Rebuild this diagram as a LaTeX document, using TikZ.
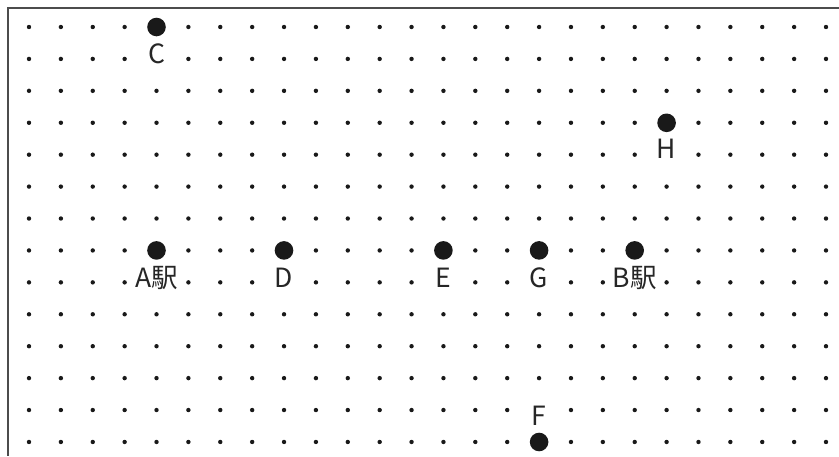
\documentclass[tikz,border=0pt]{standalone}
\usepackage{fontspec}
\setmainfont{Noto Sans CJK JP}
\usetikzlibrary{positioning}
\tikzset{
  frame/.style={draw=black!70, line width=1.6pt},
  gridpt/.style={fill=black!90},
  station/.style={circle, fill=black!90, inner sep=0pt, minimum size=18.6pt},
  lbl/.style={fill=white, inner sep=0pt, on grid, text height=19.5pt, text depth=0pt,
              text=black!85, font=\fontsize{26.5}{26.5}\selectfont},
}

\begin{document}
\begin{tikzpicture}[x=1pt, y=-1pt]
  \useasboundingbox (0,0) rectangle (839,456);
  % frame (cut at right and bottom)
  \draw[frame] (839,8) -- (8,8) -- (8,456);

  % dot grid
  \foreach \i in {0,...,25}
    \foreach \j in {0,...,13}
      \fill[gridpt] ({29+31.88*\i},{27+31.92*\j}) circle (2.2);

  % places
  \node[station] (C) at (156.5,27.0) {};
  \node[station] (H) at (666.6,122.8) {};
  \node[station] (A) at (156.5,250.4) {};
  \node[station] (D) at (284.0,250.4) {};
  \node[station] (E) at (443.4,250.4) {};
  \node[station] (G) at (539.1,250.4) {};
  \node[station] (B) at (634.7,250.4) {};
  \node[station] (F) at (539.1,442.0) {};

  % labels
  \node[lbl, below=27pt of C] (labC) {C};
  \node[lbl, below=26pt of H] (labH) {H};
  \node[lbl, below=27pt of A] (labA) {A駅};
  \node[lbl, below=27pt of D] (labD) {D};
  \node[lbl, below=27pt of E] (labE) {E};
  \node[lbl, below=27pt of G] (labG) {G};
  \node[lbl, below=27pt of B] (labB) {B駅};
  \node[lbl, above=26pt of F] (labF) {F};
\end{tikzpicture}
\end{document}
